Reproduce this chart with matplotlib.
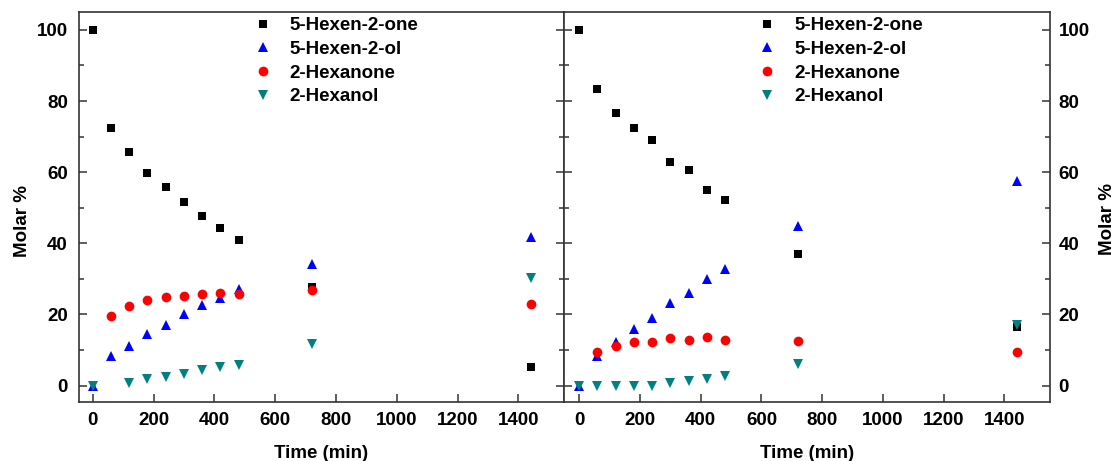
import numpy as np
import matplotlib
matplotlib.use("Agg")
import matplotlib.pyplot as plt

plt.rcParams['font.family'] = ['Liberation Sans', 'DejaVu Sans']
plt.rcParams['font.weight'] = 'bold'
plt.rcParams['axes.labelweight'] = 'bold'

# sampling times (min)
time = [0, 60, 120, 180, 240, 300, 360, 420, 480, 720, 1440]
nan = np.nan

# left run
left_hexenone = [100, 72.4, 65.8, 59.8, 55.8, 51.5, 47.7, 44.4, 41.0, 27.6, 5.1]
left_hexenol = [0, 8.4, 11.2, 14.5, 17.1, 20.1, 22.6, 24.6, 27.3, 34.1, 41.9]
left_hexanone = [nan, 19.5, 22.5, 24.2, 25.0, 25.3, 25.7, 26.1, 25.9, 26.9, 22.9]
left_hexanol = [0, nan, 0.8, 1.9, 2.5, 3.3, 4.4, 5.2, 5.7, 11.8, 30.3]

# right run
right_hexenone = [100, 83.3, 76.6, 72.4, 69.1, 63.0, 60.6, 55.0, 52.1, 36.9, 16.6]
right_hexenol = [0, 8.2, 12.4, 15.9, 19.1, 23.3, 26.0, 30.0, 32.8, 45.0, 57.6]
right_hexanone = [nan, 9.4, 11.2, 12.4, 12.4, 13.5, 12.8, 13.8, 12.9, 12.5, 9.4]
right_hexanol = [0, 0, 0, 0, 0, 0.7, 1.3, 1.8, 2.7, 6.1, 17.0]

labels = ["5-Hexen-2-one", "5-Hexen-2-ol", "2-Hexanone", "2-Hexanol"]
styles = [("s", "#000000", 6.3), ("^", "#0000ff", 7.7),
          ("o", "#ff0000", 7.0), ("v", "#008080", 7.7)]

fs = 13.5
fig = plt.figure(figsize=(11.16, 4.61), dpi=100)
ax1 = fig.add_axes([0.0708, 0.1280, 0.4346, 0.8449])
ax2 = fig.add_axes([0.5054, 0.1280, 0.4355, 0.8449])

def draw(ax, series, xlim, legx):
    for vals, lab, (m, c, ms) in zip(series, labels, styles):
        ax.plot(time, np.array(vals, dtype=float), linestyle="none", marker=m,
                color=c, markersize=ms, markeredgewidth=0, label=lab)
    ax.set_xlim(*xlim)
    ax.set_ylim(-4.6, 104.9)
    ax.set_xticks(range(0, 1401, 200))
    ax.set_yticks(range(0, 101, 20))
    ax.set_yticks(range(10, 100, 20), minor=True)
    for s in ax.spines.values():
        s.set_linewidth(1.2)
        s.set_color("#333333")
    ax.tick_params(which="both", direction="in", width=1.1, color="#333333",
                   labelsize=fs, top=False)
    ax.tick_params(which="major", length=6)
    ax.tick_params(which="minor", length=3.5)
    ax.tick_params(axis="x", pad=7)
    ax.set_xlabel("Time (min)", fontsize=fs)
    ax.xaxis.set_label_coords(0.5, -0.11)
    ax.legend(loc="upper left", bbox_to_anchor=(legx, 0.988), frameon=False,
              fontsize=fs, borderpad=0, borderaxespad=0, handlelength=1.0,
              handletextpad=0.95, labelspacing=0.35)

draw(ax1, [left_hexenone, left_hexenol, left_hexanone, left_hexanol],
     (-45, 1550), 0.359)
draw(ax2, [right_hexenone, right_hexenol, right_hexanone, right_hexanol],
     (-50, 1550), 0.399)

ax1.tick_params(axis="y", which="both", left=True, right=True, pad=8)
ax1.set_ylabel("Molar %", fontsize=fs)
ax1.yaxis.set_label_coords(-0.1, 0.465)

ax2.tick_params(axis="y", which="both", left=True, right=True,
                labelleft=False, labelright=True, pad=6)
ax2.yaxis.set_label_position("right")
ax2.set_ylabel("Molar %", fontsize=fs)
ax2.yaxis.set_label_coords(1.1, 0.47)

fig.savefig("out.png", dpi=100, facecolor="white")
